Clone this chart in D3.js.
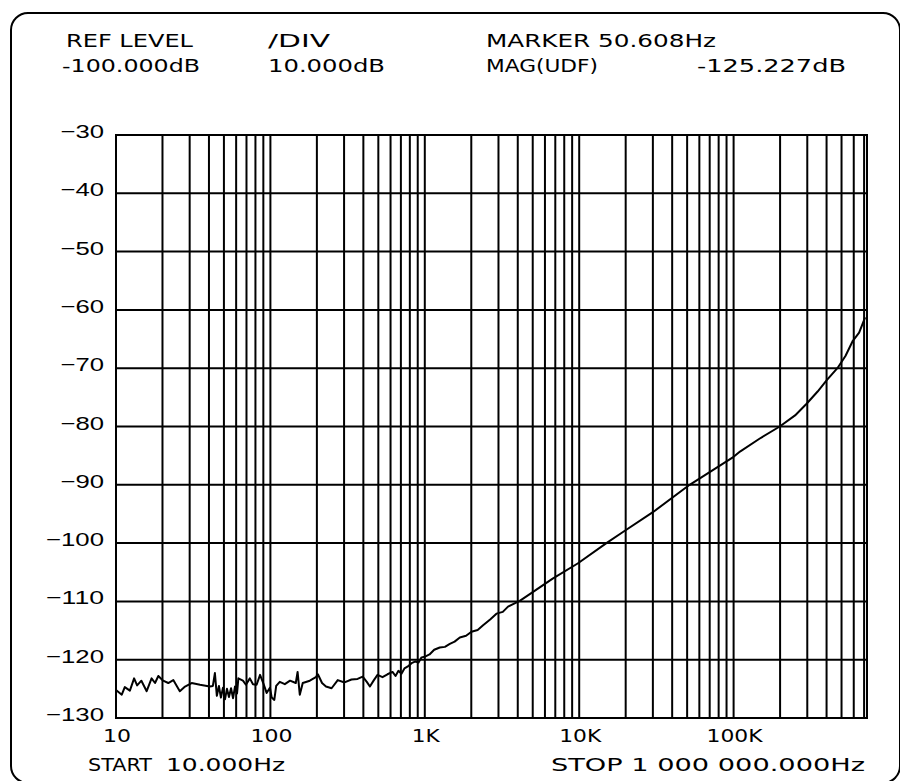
<!DOCTYPE html>
<meta charset="utf-8">
<html>
  <head>
    <title>Spectrum trace</title>
    <style>
      body { margin: 0; background: #fff; }
      svg { display: block; }
      text.plot { font-family: "DejaVu Sans", sans-serif; font-size: 17px; fill: #000; }
      text.ylab { font-family: "Liberation Sans", sans-serif; font-size: 19px; fill: #000; }
      line.grid { stroke: #000; stroke-width: 2px; }
    </style>
    <script src="https://cdn.jsdelivr.net/npm/d3@7/dist/d3.min.js"></script>
  </head>
  <body>
    <div id="chart"></div>
    <script type="text/javascript">
    // trace: frequency (Hz) and magnitude (dB)
    var freq = [10, 10.9, 11.4, 12.3, 13.1, 13.7, 14.6, 15.8, 17.0, 17.9, 18.8, 20.2, 21.8, 23.5, 25.9, 28.0,
      30.9, 35.0, 40.5, 42.4, 43.7, 45.0, 46.4, 47.8, 49.3, 50.8, 52.3, 53.9, 55.6, 57.3, 59.0, 60.8,
      62.0, 66.4, 69.4, 73.6, 77.1, 81.4, 85.7, 89.9, 94.5, 99.3, 102, 106, 109, 115, 124, 134,
      146, 150, 155, 162, 180, 197, 203, 216, 229, 249, 273, 302, 335, 367, 396, 421,
      441, 468, 494, 532, 573, 618, 646, 675, 706, 738, 772, 821, 871, 911, 953, 997,
      1073, 1150, 1250, 1350, 1452, 1560, 1686, 1850, 2006, 2200, 2385, 2650, 2910, 3200, 3460, 4120,
      5000, 6730, 9770, 15000, 19200, 30000, 51900, 100000, 110000, 147000, 199000, 250000, 297000, 350000,
      400000, 470000, 530000, 592000, 650000, 711000];
    var magDb = [-125.2, -126.0, -124.7, -125.3, -123.2, -124.4, -123.6, -125.4, -123.2, -124.0, -122.8, -123.6, -124.0, -123.5, -125.4, -124.6,
      -124.0, -124.3, -124.6, -124.5, -122.3, -126.2, -124.5, -126.5, -124.8, -126.8, -125.0, -126.4, -124.9, -126.6, -124.6, -125.8,
      -123.2, -123.6, -124.3, -123.2, -124.2, -124.3, -122.6, -124.0, -125.7, -124.8, -126.5, -126.9, -124.5, -123.8, -124.2, -123.6,
      -124.0, -122.1, -126.0, -124.0, -123.6, -123.0, -122.5, -124.0, -124.6, -124.9, -123.5, -123.9, -123.4, -123.3, -122.9, -123.8,
      -124.6, -123.5, -122.6, -123.0, -122.5, -122.1, -122.8, -121.9, -122.4, -121.5, -121.2, -120.6, -120.3, -120.5, -119.6, -119.5,
      -119.1, -118.3, -117.9, -117.8, -117.3, -116.9, -116.2, -115.9, -115.2, -114.9, -114.1, -113.1, -112.1, -111.8, -110.9, -109.9,
      -108.4, -106.1, -103.5, -100.0, -98.1, -94.7, -90.0, -85.2, -84.3, -82.1, -80.0, -78.1, -76.1, -74.0,
      -72.1, -70.0, -67.9, -65.3, -63.9, -61.3];

    var yTicks = [-30, -40, -50, -60, -70, -80, -90, -100, -110, -120, -130];
    var xTicks = [10, 100, 1000, 10000, 100000];
    var xTickLabels = ["10", "100", "1K", "10K", "100K"];
    var header1 = ["REF LEVEL", "/DIV", "MARKER 50.608Hz"];
    var header2 = ["-100.000dB", "10.000dB", "MAG(UDF)", "-125.227dB"];
    var footer = ["START", "10.000Hz", "STOP 1 000 000.000Hz"];

    var width = 900, height = 781;
    var plotL = 116, plotR = 867, plotT = 135, plotB = 718;
    var fMax = 731000;

    var x = d3.scaleLog().domain([10, fMax]).range([plotL, plotR]);
    var y = d3.scaleLinear().domain([-130, -30]).range([plotB, plotT]);

    var svg = d3.select("#chart").append("svg")
      .attr("width", width)
      .attr("height", height);

    // outer frame of the plotter sheet (runs off the right and bottom edges)
    svg.append("rect")
      .attr("x", 11).attr("y", 13)
      .attr("width", 889).attr("height", 770)
      .attr("rx", 17)
      .style("fill", "none").style("stroke", "#000").style("stroke-width", 2);

    // vertical log grid: 1..9 in each decade
    var vLines = [];
    [10, 100, 1000, 10000, 100000].forEach(function (dec) {
      for (var m = 1; m < 10; m++) {
        if (dec * m < fMax) vLines.push(dec * m);
      }
    });
    vLines.push(fMax);

    svg.selectAll(".vgrid")
      .data(vLines)
      .enter()
      .append("line")
      .attr("class", "grid")
      .attr("x1", function (d) { return x(d); })
      .attr("x2", function (d) { return x(d); })
      .attr("y1", plotT)
      .attr("y2", plotB);

    svg.selectAll(".hgrid")
      .data(yTicks)
      .enter()
      .append("line")
      .attr("class", "grid")
      .attr("x1", plotL - 1)
      .attr("x2", plotR + 1)
      .attr("y1", function (d) { return y(d); })
      .attr("y2", function (d) { return y(d); });

    // y labels
    svg.selectAll(".ylab")
      .data(yTicks)
      .enter()
      .append("text")
      .attr("class", "ylab")
      .attr("text-anchor", "end")
      .attr("x", 104)
      .attr("y", function (d) { return y(d) + 3; })
      .attr("textLength", function (d) { return String(d).length * 14.5; })
      .attr("lengthAdjust", "spacingAndGlyphs")
      .text(function (d) { return "\u2212" + Math.abs(d); });

    // x labels
    svg.selectAll(".xlab")
      .data(xTicks)
      .enter()
      .append("text")
      .attr("class", "plot")
      .attr("text-anchor", "middle")
      .attr("x", function (d) { return x(d) + 1; })
      .attr("y", 742)
      .attr("textLength", function (d, i) { return xTickLabels[i].length * 14; })
      .attr("lengthAdjust", "spacingAndGlyphs")
      .text(function (d, i) { return xTickLabels[i]; });

    // header and footer text, stretched to the widths seen on the sheet
    function put(str, px, py, w) {
      svg.append("text")
        .attr("class", "plot")
        .attr("x", px)
        .attr("y", py)
        .attr("textLength", w)
        .attr("lengthAdjust", "spacingAndGlyphs")
        .text(str);
    }
    put(header1[0], 66, 47, 127);
    put(header1[1], 268, 47, 62);
    put(header1[2], 486, 47, 230);
    put(header2[0], 62, 72, 138);
    put(header2[1], 268, 72, 117);
    put(header2[2], 486, 72, 112);
    put(header2[3], 697, 72, 149);
    put(footer[0], 88, 771, 64);
    put(footer[1], 166, 771, 119);
    put(footer[2], 551, 771, 314);

    // the trace
    var line = d3.line()
      .x(function (d, i) { return x(freq[i]); })
      .y(function (d) { return y(d); });

    svg.append("path")
      .datum(magDb)
      .attr("d", line)
      .style("fill", "none")
      .style("stroke", "#000")
      .style("stroke-width", 2)
      .style("stroke-linejoin", "round");
    </script>
  </body>
</html>
